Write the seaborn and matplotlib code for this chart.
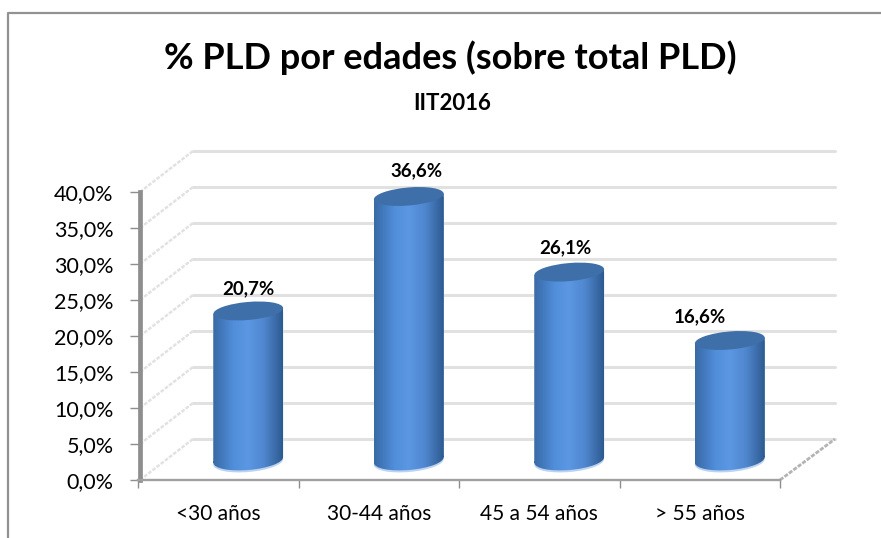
import numpy as np
import matplotlib
matplotlib.use('Agg')
import matplotlib.pyplot as plt
import seaborn as sns
from matplotlib.colors import LinearSegmentedColormap
from matplotlib.lines import Line2D
from matplotlib.patches import Ellipse
from matplotlib.path import Path
from matplotlib.transforms import Affine2D, IdentityTransform

# Chart data
ages = ['<30 años', '30-44 años', '45 a 54 años', '> 55 años']
pld_pct = [20.7, 36.6, 26.1, 16.6]
bar_labels = ['20,7%', '36,6%', '26,1%', '16,6%']
y_ticks = [0, 5, 10, 15, 20, 25, 30, 35, 40]
y_tick_labels = ['0,0%', '5,0%', '10,0%', '15,0%', '20,0%', '25,0%', '30,0%', '35,0%', '40,0%']

sns.set_theme(style='white')
plt.rcParams['font.family'] = ['Lato', 'DejaVu Sans']

W, H = 881, 538
fig = plt.figure(figsize=(W / 100, H / 100), dpi=100, facecolor='white')


def box(left, right, bottom_y, top_y):
    return [left / W, 1 - bottom_y / H, (right - left) / W, (bottom_y - top_y) / H]


# Chart frame, open at the right and bottom like the crop
fig.add_artist(Line2D([8 / W, 8 / W, 1], [0, 1 - 13 / H, 1 - 13 / H], color='#929292', lw=1.6))

fig.text(450 / W, 1 - 58 / H, '% PLD por edades (sobre total PLD)', ha='center', va='center',
         fontsize=26, fontweight='bold', color='black')
fig.text(452 / W, 1 - 103 / H, 'IIT2016', ha='center', va='center',
         fontsize=16, fontweight='bold', color='black')

# Front plane: axis lines, ticks and labels
ax = fig.add_axes(box(138, 780, 480, 192))
ax.patch.set_alpha(0)
ax.set_xlim(-0.5, 3.5)
ax.set_ylim(0, 40)
sns.despine(ax=ax, top=True, right=True)
ax.spines['left'].set_color('#8e8e8e')
ax.spines['left'].set_linewidth(3.4)
ax.spines['left'].set_position(('outward', -1.5))
ax.spines['bottom'].set_color('#a0a0a0')
ax.spines['bottom'].set_linewidth(1.7)
ax.set_yticks(y_ticks)
ax.set_yticklabels(y_tick_labels, fontsize=15.5, color='black')
ax.tick_params(axis='y', left=True, length=7, width=1, color='#8e8e8e', pad=12)
ax.set_xticks([-0.5, 0.5, 1.5, 2.5, 3.5])
ax.set_xticklabels([])
ax.set_xticks(range(4), ages, minor=True, fontsize=15, color='black')
ax.tick_params(axis='x', which='major', bottom=True, length=6, width=1, color='#8e8e8e')
ax.tick_params(axis='x', which='minor', bottom=False, length=0, pad=17)

# Depth of the box, in data units of the front plane
px_x = 642 / 4
px_y = 288 / 40
depth_x = 55 / px_x
depth_y = 41 / px_y

# Back wall, side wall and floor edge
for v in y_ticks:
    ax.plot([-0.5 + depth_x, 3.5 + depth_x], [v + depth_y, v + depth_y], color='#e1e1e1',
            lw=2.2, clip_on=False, zorder=1)
    ax.plot([-0.5 + 2 / px_x, -0.5 + depth_x], [v, v + depth_y], color='#e2e2e2', lw=1.8,
            ls=(0, (1.5, 0.6)), clip_on=False, zorder=1)
ax.plot([3.5, 3.5 + depth_x], [0, depth_y], color='#b4b4b4', lw=2, ls=(0, (1.5, 0.5)),
        clip_on=False, zorder=1)

# Cylinders sit halfway along the depth of the box
shift_x, shift_y = 30, 20
drop = 14
ax_bars = fig.add_axes(box(138 + shift_x, 780 + shift_x, 480 - shift_y + drop, 192 - shift_y))
ax_bars.patch.set_alpha(0)
sns.barplot(x=ages, y=pld_pct, width=0.436, color='#4f88cf', saturation=1, ax=ax_bars)
ax_bars.set_xlim(-0.5, 3.5)
ax_bars.set_ylim(-drop / px_y, 40)
ax_bars.axis('off')

shade = LinearSegmentedColormap.from_list('cyl', [(0, '#3a6aa4'), (0.09, '#3f74b6'), (0.3, '#528fdb'),
                                                  (0.5, '#5b97e2'), (0.72, '#5088d0'), (0.9, '#3b6ba8'),
                                                  (1, '#2c5a8f')])
gradient = np.linspace(0, 1, 256).reshape(1, -1)
tilt = 5
rx = 35
ry_top, ry_base = 9, 10
rise = rx * np.sin(np.radians(tilt))
label_dx = [0, 8, -4, -30]
label_dy = [22, 26, 24, 24]

for i, bar in enumerate(ax_bars.patches):
    x0, x1 = bar.get_x(), bar.get_x() + bar.get_width()
    (xl, y_top), (xr, y_base) = ax_bars.transData.transform([(x0, pld_pct[i]), (x1, 0)])
    xc = (xl + xr) / 2

    # Side of the cylinder: slanted body plus the lower half of the base ellipse
    base = Affine2D().scale((xr - xl) / 2, ry_base).rotate_deg(tilt).translate(xc, y_base)
    side = Path.make_compound_path(
        Path([(xl, y_top - rise), (xl, y_base - rise), (xr, y_base + rise), (xr, y_top + rise),
              (xl, y_top - rise)], closed=True),
        Path.unit_circle().transformed(base))
    bar.set_clip_path(side, IdentityTransform())

    rim = Ellipse((xc, y_base - 2), xr - xl, 2 * ry_base, angle=tilt, facecolor='#bcd3f0', edgecolor='none',
                  transform=IdentityTransform(), zorder=2)
    ax_bars.add_artist(rim)
    im = ax_bars.imshow(gradient, cmap=shade, aspect='auto', zorder=3,
                        extent=(x0, x1, -drop / px_y, pld_pct[i] + 2))
    im.set_clip_path(side, IdentityTransform())

    ax_bars.add_artist(Ellipse((xc, y_top), xr - xl, 2 * ry_top, angle=tilt, facecolor='#3f6fa9',
                               edgecolor='none', transform=IdentityTransform(), zorder=4))
    ax_bars.annotate(bar_labels[i], (bar.get_x() + bar.get_width() / 2, pld_pct[i]), xycoords='data',
                     xytext=(label_dx[i] * 0.72, label_dy[i] * 0.72), textcoords='offset points',
                     ha='center', va='center', fontsize=13.5, fontweight='bold', color='black', zorder=5)

ax_bars.set_xlim(-0.5, 3.5)
ax_bars.set_ylim(-drop / px_y, 40)

fig.savefig('out.png', dpi=100)
